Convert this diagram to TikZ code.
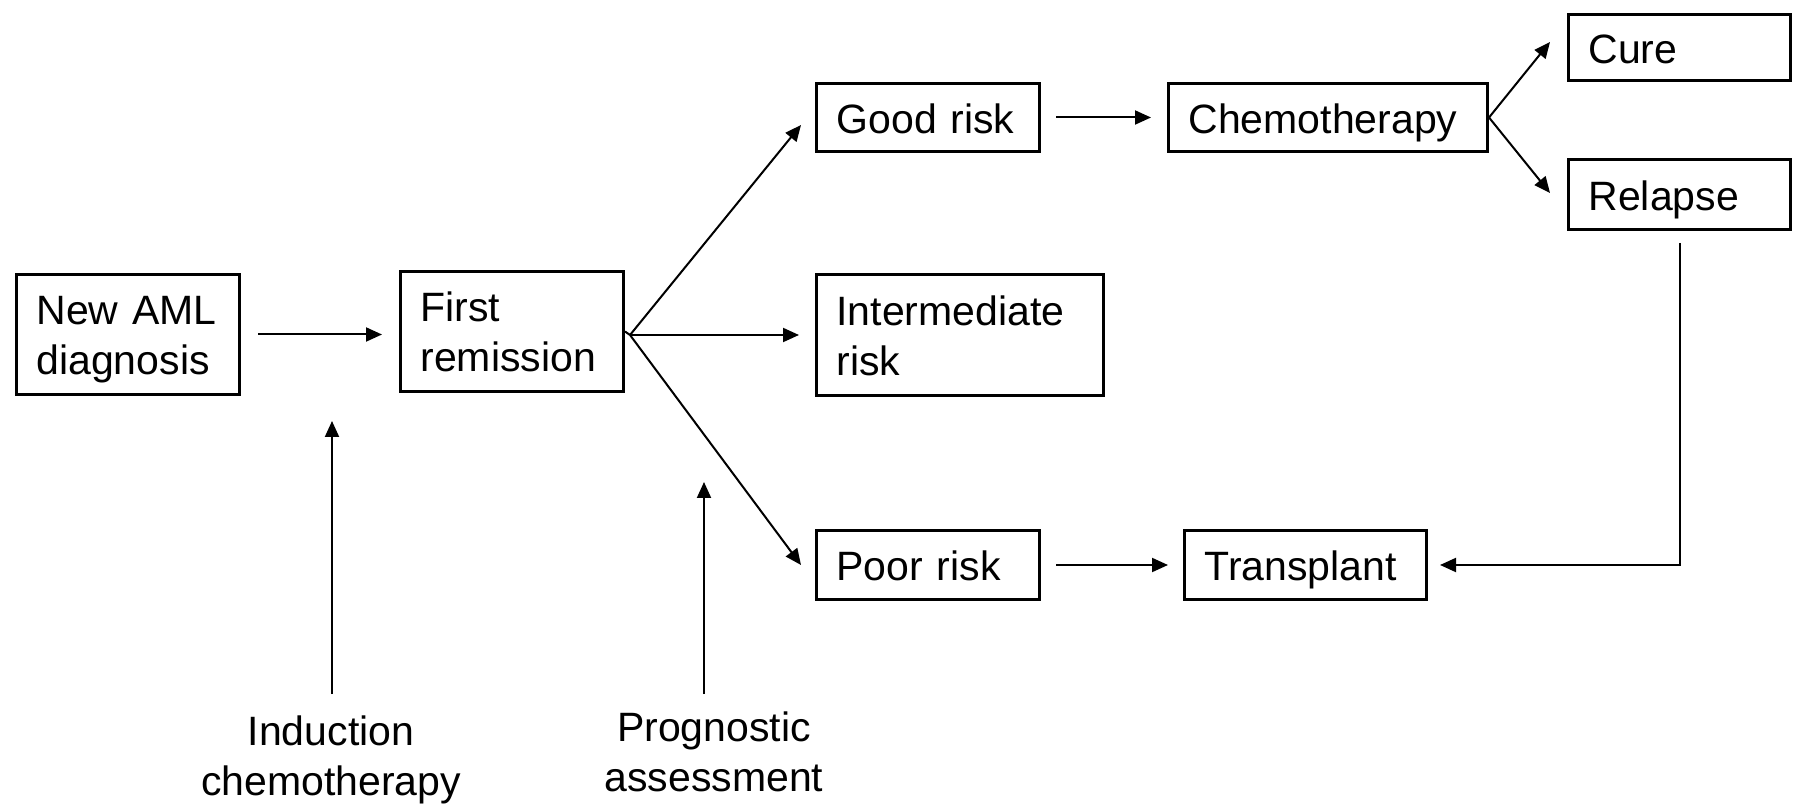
\documentclass[tikz,border=0pt]{standalone}
\usepackage{fontspec}
\setmainfont{Liberation Sans}
\usetikzlibrary{arrows.meta,calc}
\begin{document}
\begin{tikzpicture}[x=0.5pt,y=-0.5pt,
  boxbase/.style={draw, line width=1.5pt, inner xsep=10pt, inner ysep=0pt, align=left,
    font=\fontsize{20.5}{25}\selectfont},
  boxone/.style={boxbase, text height=16pt, text depth=0pt},
  boxtwo/.style={boxbase, text height=20pt, text depth=29.5pt},
  lbl/.style={inner sep=0pt, align=center, anchor=north, font=\fontsize{20.5}{25}\selectfont},
  arr/.style={line width=1pt, -{Triangle[length=8pt,width=7pt]}}]
\useasboundingbox (0,0) rectangle (1799,806);

% boxes
\node[boxtwo, text width=91.5pt, minimum height=60pt] (aml) at (128,334.5) {New AML\\diagnosis};
\node[boxtwo, text width=91.5pt, minimum height=60pt] (first) at (512,331.5) {First\\remission};
\node[boxone, text width=91.5pt, minimum height=34pt] (good) at (928,117.5) {Good risk};
\node[boxtwo, text width=123.5pt, minimum height=60.5pt] (inter) at (960,335) {Intermediate\\risk};
\node[boxone, text width=91.5pt, minimum height=34.5pt] (poor) at (928,565) {Poor risk};
\node[boxone, text width=139.5pt, minimum height=34pt] (chemo) at (1328,117.5) {Chemotherapy};
\node[boxone, text width=101pt, minimum height=34.5pt] (trans) at (1305.5,565) {Transplant};
\node[boxone, text width=91pt, minimum height=33pt] (cure) at (1679.5,47.5) {Cure};
\node[boxone, text width=91pt, minimum height=35pt] (relapse) at (1679.5,194.5) {Relapse};

% bottom labels
\node[lbl] (ind) at (331,715) {Induction\\chemotherapy};
\node[lbl] (prog) at (714,711) {Prognostic\\assessment};

% free ends
\coordinate (fan) at ($(first.east)+(5,3.5)$);
\coordinate (gtip) at ($(good.west)+(-14,7.5)$);
\coordinate (itip) at ($(inter.west)+(-16,0)$);
\coordinate (ptip) at ($(poor.west)+(-14,0)$);
\coordinate (ctip) at ($(cure.west)+(-17,-5.5)$);
\coordinate (rtip) at ($(relapse.west)+(-17,-1.5)$);
\coordinate (indtip) at (332,421);
\coordinate (progtip) at (704,482);

% connectors
\draw[arr, shorten <=8.5pt, shorten >=8.5pt] (aml.east) -- (aml.east -| first.west);
\draw[line width=1pt] (first.east) -- (fan);
\draw[arr] (fan) -- (gtip);
\draw[arr] (fan) -- (itip);
\draw[arr] (fan) -- (ptip);
\draw[arr, shorten <=7.5pt, shorten >=8pt] (good.east) -- (chemo.west);
\draw[arr, shorten <=7.5pt, shorten >=7.5pt] (poor.east) -- (trans.west);
\draw[arr] (chemo.east) -- (ctip);
\draw[arr] (chemo.east) -- (rtip);
\draw[arr, shorten <=6pt, shorten >=6pt] (relapse.south) |- (trans.east);
\draw[arr] ($(ind.north)+(1,-21)$) -- (indtip);
\draw[arr] ($(prog.north)+(-10,-17)$) -- (progtip);
\end{tikzpicture}
\end{document}
